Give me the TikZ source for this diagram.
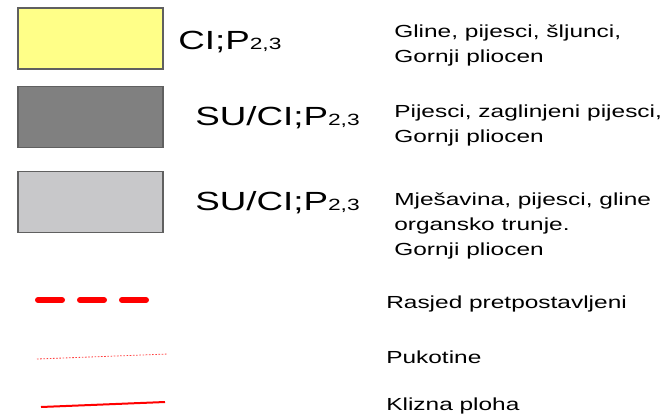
\documentclass[tikz,border=0pt]{standalone}
\usepackage{fontspec}
\setmainfont[FakeStretch=1.4]{Liberation Sans}
\usetikzlibrary{positioning}
\definecolor{clayyellow}{RGB}{255,255,136}
\definecolor{sanddark}{RGB}{128,128,128}
\definecolor{mixlight}{RGB}{200,200,202}
\definecolor{boxedge}{RGB}{96,96,96}
\tikzset{
  soilbox/.style={rectangle, draw=boxedge, line width=1.3pt, minimum width=108.75pt, minimum height=45.75pt, inner sep=0pt},
  code/.style={anchor=base west, inner sep=0pt, font=\fontsize{19.7}{23}\selectfont},
  desc/.style={anchor=base west, inner sep=0pt, font=\fontsize{13.1}{19.1}\selectfont}
}
\newcommand{\subidx}[1]{{\fontsize{12.2}{14}\selectfont #1}}
\newcommand{\lines}[1]{\begin{tabular}[t]{@{}l@{}}#1\end{tabular}}

\begin{document}
\begin{tikzpicture}[x=0.75pt, y=-0.75pt,
    fault/.style={red, line width=4.5pt, line cap=round, dash pattern=on 18pt off 13.5pt},
    crack/.style={red!75, line width=0.6pt, dash pattern=on 1.2pt off 1.2pt},
    slide/.style={red, line width=1.5pt}
  ]
    \useasboundingbox (0,0) rectangle (665,419);

    % soil units
    \node[soilbox, fill=clayyellow] (cl) at (90.5,38.5) {};
    \node[soilbox, fill=sanddark] (sucl) at (90.5,117) {};
    \node[soilbox, fill=mixlight] (mix) at (90.5,202) {};

    \node[code] (clcode) at (178,49) {CI;P\subidx{2,3}};
    \node[code] (suclcode) at (195,125) {SU/CI;P\subidx{2,3}};
    \node[code] (mixcode) at (195,210) {SU/CI;P\subidx{2,3}};

    \node[desc] (cldesc) at (394,37) {\lines{Gline, pijesci, šljunci,\\ Gornji pliocen}};
    \node[desc] (sucldesc) at (394,117) {\lines{Pijesci, zaglinjeni pijesci,\\ Gornji pliocen}};
    \node[desc] (mixdesc) at (394,205) {\lines{Mješavina, pijesci, gline\\ organsko trunje.\\ Gornji pliocen}};

    % line symbols
    \coordinate (faultA) at (38,300);
    \coordinate (faultB) at (148,300);
    \coordinate (crackA) at (37,359);
    \coordinate (crackB) at (168,354);
    \coordinate (slideA) at (41,407);
    \coordinate (slideB) at (165,402);
    \draw[fault] (faultA) -- (faultB);
    \draw[crack] (crackA) -- (crackB);
    \draw[slide] (slideA) -- (slideB);

    \node[desc] (faultdesc) at (386,308) {Rasjed pretpostavljeni};
    \node[desc] (crackdesc) at (386,363) {Pukotine};
    \node[desc] (slidedesc) at (386,410) {Klizna ploha};
  \end{tikzpicture}
\end{document}
